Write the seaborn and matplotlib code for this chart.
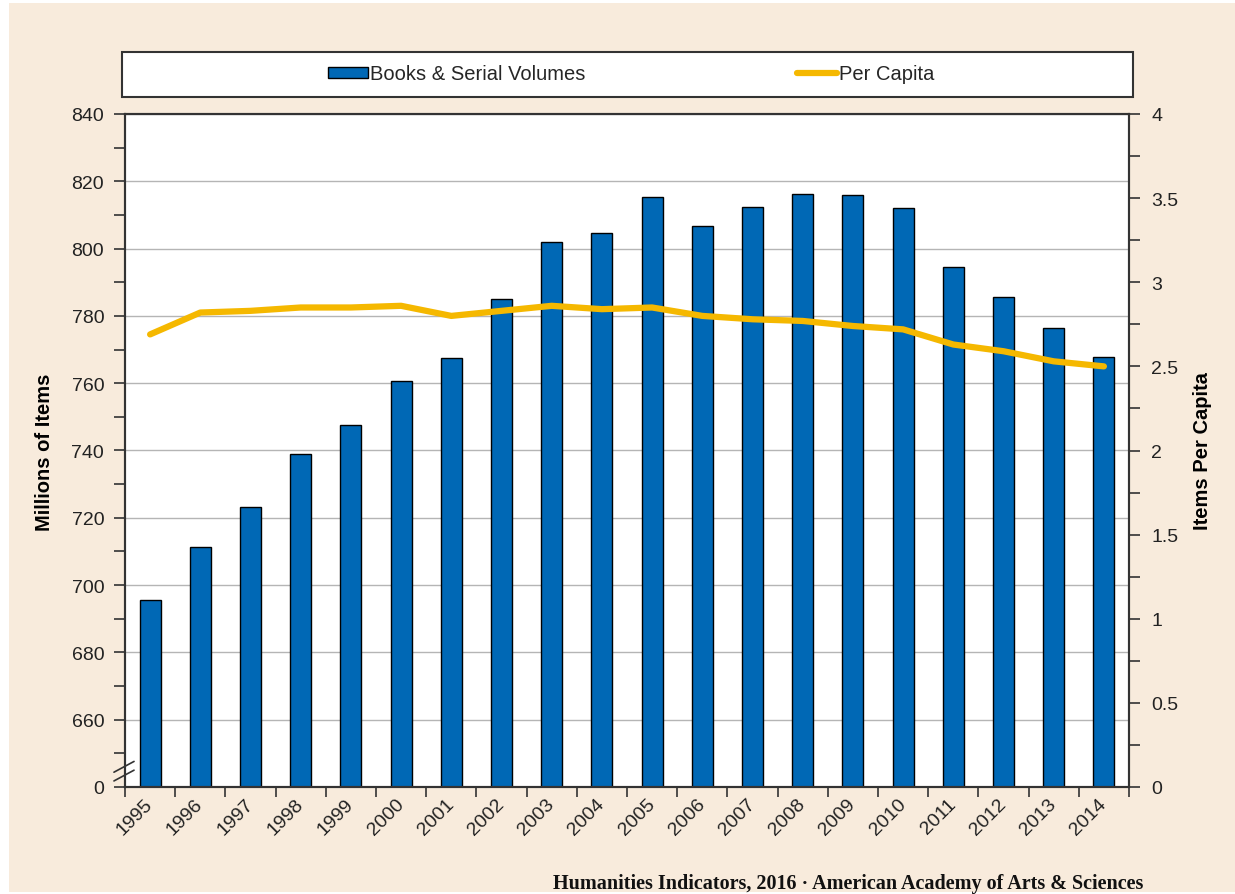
import numpy as np
import matplotlib
matplotlib.use("Agg")
import matplotlib.pyplot as plt
from matplotlib.patches import Patch, Rectangle
from matplotlib.lines import Line2D
from matplotlib.ticker import MultipleLocator, FixedLocator
import seaborn as sns

# data
years = [str(y) for y in range(1995, 2015)]
volumes = [695.5, 711.2, 723.3, 739.0, 747.5, 760.6, 767.4, 785.0, 801.9, 804.6,
           815.4, 806.8, 812.5, 816.3, 815.8, 812.1, 794.4, 785.6, 776.5, 767.7]
per_capita = [2.69, 2.82, 2.83, 2.85, 2.85, 2.86, 2.80, 2.83, 2.86, 2.84,
              2.85, 2.80, 2.78, 2.77, 2.74, 2.72, 2.63, 2.59, 2.53, 2.50]
left_ticks = list(range(640, 841, 20))
left_labels = ["0"] + [str(v) for v in left_ticks[1:]]
right_ticks = np.arange(0, 4.01, 0.5)

BLUE = "#0068b5"
GOLD = "#f5b800"
BEIGE = "#f8ebdc"
DARK = "#333333"

sns.set_theme(style="white")
plt.rcParams["font.family"] = ["Liberation Sans", "DejaVu Sans"]

W, H = 1235, 895
fig = plt.figure(figsize=(W / 100, H / 100), dpi=100)
fig.patch.set_facecolor("white")
fig.add_artist(Rectangle((9 / W, 2 / H), 1 - 9 / W, 1 - 6 / H, transform=fig.transFigure,
                         facecolor=BEIGE, edgecolor="none", zorder=-10))

ax = fig.add_axes([125 / W, 107 / H, 1004 / W, 673 / H])
ax.set_facecolor("white")
sns.barplot(x=years, y=volumes, ax=ax, color=BLUE, saturation=1, width=0.42,
            edgecolor="black", linewidth=1)
ax.set_xlim(-0.5, len(years) - 0.5)
ax.set_ylim(640, 840)
ax.set_yticks(left_ticks)
ax.set_yticklabels(left_labels)
ax.yaxis.set_minor_locator(MultipleLocator(10))
ax.set_axisbelow(True)
ax.yaxis.grid(True, color="#b5b5b5", linewidth=1)
ax.xaxis.grid(False)
ax.set_xlabel("")
ax.set_ylabel("")

# boundary tick marks between bars, labels under bars
ax.xaxis.set_minor_locator(FixedLocator(np.arange(-0.5, len(years), 1)))
ax.tick_params(axis="x", which="major", length=0, pad=10, labelsize=14, colors="#222222")
ax.tick_params(axis="x", which="minor", bottom=True, length=7, width=1.2, color=DARK)
for lab in ax.get_xticklabels():
    lab.set_rotation(45)
    lab.set_ha("right")
    lab.set_va("center")
    lab.set_rotation_mode("anchor")
ax.tick_params(axis="y", which="both", left=True, length=8, width=1.2, color=DARK,
               labelsize=14, pad=7, labelcolor="#222222")

for s in ax.spines.values():
    s.set_color(DARK)
    s.set_linewidth(1.5)

# axis break marks
brk = dict(transform=ax.transAxes, color=DARK, linewidth=1.2, clip_on=False)
ax.plot([-0.011, 0.009], [0.022, 0.038], **brk)
ax.plot([-0.011, 0.009], [0.009, 0.025], **brk)

ax2 = ax.twinx()
sns.lineplot(x=np.arange(len(years)), y=per_capita, ax=ax2, color=GOLD, linewidth=4.5,
             legend=False)
for ln in ax2.lines:
    ln.set_solid_joinstyle("round")
    ln.set_solid_capstyle("round")
ax2.set_ylim(0, 4)
ax2.set_yticks(right_ticks)
ax2.set_yticklabels([f"{v:g}" for v in right_ticks])
ax2.yaxis.set_minor_locator(MultipleLocator(0.25))
ax2.tick_params(axis="y", which="both", right=True, length=8, width=1.2, color=DARK,
                labelsize=14, pad=8, labelcolor="#222222")
ax2.grid(False)
ax2.set_ylabel("")
for s in ax2.spines.values():
    s.set_color(DARK)
    s.set_linewidth(1.5)

fig.text(45 / W, 1 - 452 / H, "Millions of Items", rotation=90, ha="center", va="center",
         fontsize=14.5, fontweight="bold", color="black")
fig.text(1203 / W, 1 - 451 / H, "Items Per Capita", rotation=90, ha="center", va="center",
         fontsize=14.5, fontweight="bold", color="black")

# legend box
fig.add_artist(Rectangle((122 / W, 1 - 98 / H), 1011 / W, 45 / H, transform=fig.transFigure,
                         facecolor="white", edgecolor=DARK, linewidth=1.5))
handles = [Patch(facecolor=BLUE, edgecolor="black", linewidth=1),
           Line2D([0], [0], color=GOLD, linewidth=4.5)]
fig.legend(handles, ["Books & Serial Volumes", "Per Capita"], loc="center",
           bbox_to_anchor=(631 / W, 1 - 75 / H), ncol=2, frameon=False, fontsize=14.5,
           handlelength=2.0, handletextpad=0.1, columnspacing=10.5, handleheight=0.45)

fig.text(1143 / W, 1 - 884 / H,
         "Humanities Indicators, 2016 \u00b7 American Academy of Arts & Sciences",
         ha="right", va="center", fontsize=14.5, fontweight="bold",
         family=["Liberation Serif", "DejaVu Serif"], color="#111111")

fig.savefig("out.png", dpi=100, facecolor=fig.get_facecolor())
